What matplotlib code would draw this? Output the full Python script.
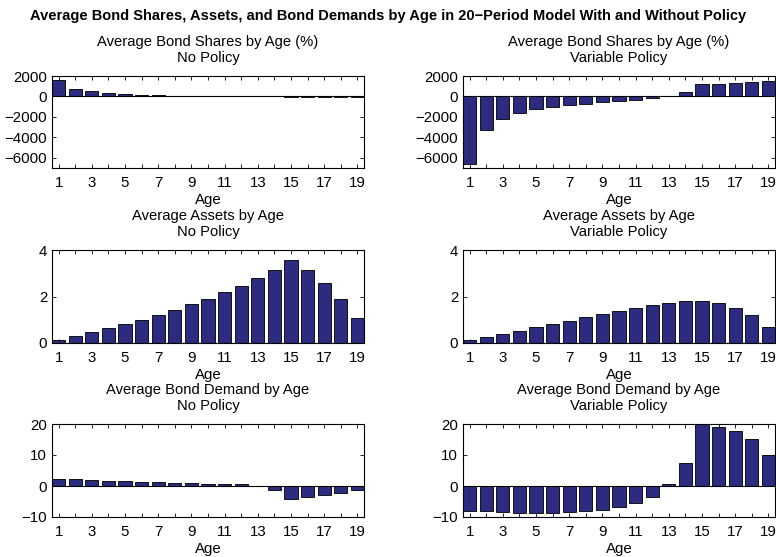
import matplotlib
matplotlib.use("Agg")
import matplotlib.pyplot as plt

plt.rcParams['font.family'] = ['Liberation Sans', 'DejaVu Sans']

ages = list(range(1, 20))

# bond shares (%)
shares_nopol = [1650, 760, 500, 350, 220, 150, 100, 80, 60, 50, 40, 30, 20, 10,
                -60, -60, -60, -60, -60]
shares_var = [-6570, -3330, -2160, -1590, -1270, -1020, -860, -700, -570, -440,
              -320, -190, 40, 480, 1170, 1200, 1270, 1370, 1520]

# average assets
assets_nopol = [0.14, 0.31, 0.47, 0.64, 0.81, 1.01, 1.21, 1.43, 1.66, 1.91, 2.19,
                2.47, 2.80, 3.16, 3.56, 3.13, 2.60, 1.91, 1.07]
assets_var = [0.13, 0.26, 0.39, 0.51, 0.67, 0.81, 0.96, 1.10, 1.24, 1.39, 1.51,
              1.63, 1.71, 1.79, 1.80, 1.70, 1.50, 1.19, 0.70]

# bond demand
demand_nopol = [2.4, 2.2, 1.95, 1.75, 1.5, 1.3, 1.2, 1.0, 0.9, 0.75, 0.65, 0.5,
                0.1, -1.2, -4.3, -3.7, -3.0, -2.3, -1.3]
demand_var = [-8.1, -8.2, -8.4, -8.6, -8.6, -8.6, -8.5, -8.1, -7.7, -6.9, -5.6,
              -3.4, 0.6, 7.3, 20.0, 19.1, 17.7, 15.2, 10.0]

panels = [
    (shares_nopol, "Average Bond Shares by Age (%)\nNo Policy", (-7000, 2000), [-6000, -4000, -2000, 0, 2000]),
    (shares_var, "Average Bond Shares by Age (%)\nVariable Policy", (-7000, 2000), [-6000, -4000, -2000, 0, 2000]),
    (assets_nopol, "Average Assets by Age\nNo Policy", (0, 4), [0, 2, 4]),
    (assets_var, "Average Assets by Age\nVariable Policy", (0, 4), [0, 2, 4]),
    (demand_nopol, "Average Bond Demand by Age\nNo Policy", (-10, 20), [-10, 0, 10, 20]),
    (demand_var, "Average Bond Demand by Age\nVariable Policy", (-10, 20), [-10, 0, 10, 20]),
]

W, H = 776, 557
fig = plt.figure(figsize=(W / 100, H / 100), dpi=100)
fig.suptitle("Average Bond Shares, Assets, and Bond Demands by Age in 20\u2212Period Model With and Without Policy",
             fontsize=10.5, fontweight='bold', y=1 - 9 / H)

col_left = [52, 463]
col_w = 312
rows = [(76, 168), (250, 343), (424, 517)]

for i, (vals, title, ylim, yticks) in enumerate(panels):
    r, c = divmod(i, 2)
    top, bot = rows[r]
    ax = fig.add_axes([col_left[c] / W, 1 - bot / H, col_w / W, (bot - top) / H])
    # faint offset shadow like the original export
    ax.bar([a + 0.06 for a in ages], vals, width=0.8, bottom=0, color='#c8c8c8',
           linewidth=0, zorder=1)
    ax.bar(ages, vals, width=0.8, color='#2b2b80', edgecolor='black', linewidth=0.6, zorder=2)
    ax.axhline(0, color='black', linewidth=0.8, zorder=3)
    ax.set_xlim(0.6, 19.4)
    ax.set_ylim(*ylim)
    ax.set_yticks(yticks)
    ax.set_xticks(ages)
    ax.set_xticklabels([str(a) if a % 2 == 1 else '' for a in ages])
    ax.tick_params(direction='in', top=True, right=True, length=3, labelsize=10.8, width=0.6)
    ax.tick_params(axis='x', pad=6)
    ax.set_xlabel("Age", fontsize=10.8, labelpad=2)
    ax.set_title(title, fontsize=10.6, linespacing=1.15, pad=10)
    for s in ax.spines.values():
        s.set_linewidth(0.8)

fig.savefig("out.png", dpi=100)
